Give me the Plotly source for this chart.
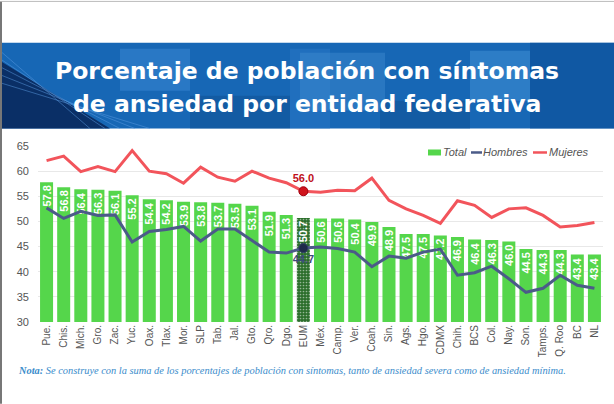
import plotly.graph_objects as go

entidades = ["Pue.", "Chis.", "Mich.", "Gro.", "Zac.", "Yuc.", "Oax.", "Tlax.", "Mor.", "SLP",
             "Tab.", "Jal.", "Gto.", "Qro.", "Dgo.", "EUM", "Méx.", "Camp.", "Ver.", "Coah.",
             "Sin.", "Ags.", "Hgo.", "CDMX", "Chih.", "BCS", "Col.", "Nay.", "Son.", "Tamps.",
             "Q. Roo", "BC", "NL"]
total = [57.8, 56.8, 56.4, 56.3, 56.1, 55.2, 54.4, 54.2, 53.9, 53.8,
         53.7, 53.5, 53.1, 51.9, 51.3, 50.7, 50.6, 50.6, 50.4, 49.9,
         48.9, 47.5, 47.5, 47.2, 46.9, 46.4, 46.3, 46.0, 44.5, 44.3,
         44.3, 43.4, 43.4]
hombres = [52.7, 50.6, 52.0, 51.2, 51.3, 45.9, 48.0, 48.4, 49.0, 46.1,
           48.5, 48.5, 46.2, 43.9, 43.7, 44.7, 44.9, 44.6, 43.9, 41.0,
           43.1, 42.7, 43.9, 44.5, 39.3, 39.8, 41.1, 38.6, 35.9, 36.7,
           39.3, 37.3, 36.7]
mujeres = [62.1, 63.0, 59.9, 60.9, 59.9, 64.1, 60.0, 59.5, 57.6, 60.8,
           58.8, 58.0, 60.0, 58.6, 57.7, 56.0, 55.8, 56.2, 56.1, 58.6,
           54.2, 52.5, 51.2, 49.6, 54.1, 53.2, 50.8, 52.5, 52.7, 51.2,
           48.9, 49.2, 49.8]
nacional = "EUM"
y_ticks = [30, 35, 40, 45, 50, 55, 60, 65]
series_names = ["Total", "Hombres", "Mujeres"]

W, H = 614, 404
L, R, T, B = 38, 603, 145.5, 322


def px(x):
    return (x - L) / (R - L)


def py(y):
    return (B - y) / (B - T)


green = "#55d64b"
dark_green = "#2b6e2b"
c_hombres = "#4b5b88"
c_mujeres = "#f2545b"
bar_colors = [dark_green if e == nacional else green for e in entidades]
patterns = ["." if e == nacional else "" for e in entidades]

fig = go.Figure()
fig.add_trace(go.Bar(
    x=entidades, y=total, name=series_names[0], showlegend=False,
    marker=dict(color=bar_colors, line=dict(width=0),
                pattern=dict(shape=patterns, fgcolor="#347534", size=3, solidity=0.25)),
    text=[f"{v:.1f}" for v in total], textposition="inside", insidetextanchor="end",
    textangle=-90, constraintext="none",
    textfont=dict(family="Liberation Sans, Arial", size=11, color="white", weight="bold"),
    cliponaxis=False,
))
fig.add_trace(go.Scatter(
    x=entidades, y=hombres, name=series_names[1], mode="lines", showlegend=False,
    line=dict(color=c_hombres, width=3),
))
fig.add_trace(go.Scatter(
    x=entidades, y=mujeres, name=series_names[2], mode="lines", showlegend=False,
    line=dict(color=c_mujeres, width=3),
))
i = entidades.index(nacional)
fig.add_trace(go.Scatter(
    x=[nacional], y=[mujeres[i]], mode="markers+text", showlegend=False,
    marker=dict(color="#d0141c", size=9, line=dict(color="#a00010", width=1)),
    text=[f"{mujeres[i]:.1f}"], textposition="top center",
    textfont=dict(family="Liberation Sans, Arial", size=11, color="#c0101a", weight="bold"),
))
fig.add_trace(go.Scatter(
    x=[nacional], y=[hombres[i]], mode="markers+text", showlegend=False,
    marker=dict(color="#1f2a4a", size=9, line=dict(color="#2e3d66", width=1)),
    text=[f"{hombres[i]:.1f}"], textposition="bottom center",
    textfont=dict(family="Liberation Sans, Arial", size=11, color="#3b4a78", weight="bold"),
))

shapes = []
shapes.append(dict(type="rect", xref="paper", yref="paper", x0=px(0), x1=px(W), y0=py(128), y1=py(42),
                   fillcolor="#1767b5", line=dict(width=0), layer="below"))
for (x0, y0, x1, y1, c, o) in [
    (120, 48, 190, 90, "#3b8ad6", 0.5), (290, 48, 330, 128, "#2a78c8", 0.5),
    (300, 52, 385, 110, "#4b95d8", 0.35), (470, 50, 530, 100, "#4a98dc", 0.45),
    (530, 42, 614, 128, "#0c4f98", 0.6), (190, 95, 290, 128, "#0f4f92", 0.5),
    (380, 100, 470, 128, "#0f4f92", 0.5),
]:
    shapes.append(dict(type="rect", xref="paper", yref="paper", x0=px(x0), x1=px(x1), y0=py(y1), y1=py(y0),
                       fillcolor=c, opacity=o, line=dict(width=0), layer="below"))


def path_px(pts):
    return "M " + " L ".join(f"{px(a):.4f},{py(b):.4f}" for a, b in pts) + " Z"


shapes.append(dict(type="path", xref="paper", yref="paper", path=path_px([(0, 128), (0, 60), (110, 128)]),
                   fillcolor="#0a2f66", line=dict(width=0), layer="below"))
for k in range(5):
    shapes.append(dict(type="line", xref="paper", yref="paper",
                       x0=px(0), y0=py(50 + k * 8), x1=px(90 + k * 15), y1=py(128),
                       line=dict(color="#5a9ae0", width=1), opacity=0.5, layer="below"))
shapes.append(dict(type="line", xref="paper", yref="paper", x0=px(1), x1=px(1), y0=py(0), y1=py(404),
                   line=dict(color="#777777", width=2)))
shapes.append(dict(type="line", xref="paper", yref="paper", x0=px(0), x1=px(W), y0=py(0.5), y1=py(0.5),
                   line=dict(color="#bbbbbb", width=1)))

# manual legend
leg_y = 152
shapes.append(dict(type="rect", xref="paper", yref="paper", x0=px(428), x1=px(441),
                   y0=py(leg_y + 3), y1=py(leg_y - 3), fillcolor=green, line=dict(width=0)))
shapes.append(dict(type="line", xref="paper", yref="paper", x0=px(471), x1=px(482),
                   y0=py(leg_y), y1=py(leg_y), line=dict(color=c_hombres, width=2.5)))
shapes.append(dict(type="line", xref="paper", yref="paper", x0=px(533), x1=px(547),
                   y0=py(leg_y), y1=py(leg_y), line=dict(color=c_mujeres, width=2.5)))

leg_font = dict(family="Liberation Sans, Arial", size=11, color="#555555", style="italic")
annotations = [
    dict(text="Porcentaje de población con síntomas",
         xref="paper", yref="paper", x=px(307), y=py(70), xanchor="center", yanchor="middle",
         showarrow=False,
         font=dict(family="DejaVu Sans", size=23.5, color="white", weight="bold")),
    dict(text="de ansiedad por entidad federativa",
         xref="paper", yref="paper", x=px(307), y=py(103), xanchor="center", yanchor="middle",
         showarrow=False,
         font=dict(family="DejaVu Sans", size=23.5, color="white", weight="bold")),
    dict(text="<b>Nota:</b> Se construye con la suma de los porcentajes de población con síntomas, "
              "tanto de ansiedad severa como de ansiedad mínima.",
         xref="paper", yref="paper", x=px(16), y=py(371), xanchor="left", yanchor="middle",
         showarrow=False,
         font=dict(family="Liberation Serif, Times New Roman", size=10.4, color="#3a8ccb", style="italic")),
]
for name, xx in zip(series_names, [441, 481, 547]):
    annotations.append(dict(text=name, xref="paper", yref="paper", x=px(xx), y=py(leg_y),
                            xanchor="left", yanchor="middle", showarrow=False, font=leg_font))

fig.update_layout(
    width=W, height=H,
    margin=dict(l=L, r=W - R, t=T, b=H - B, pad=0, autoexpand=False),
    paper_bgcolor="white", plot_bgcolor="white",
    bargap=0.24,
    showlegend=False,
    shapes=shapes,
    annotations=annotations,
    xaxis=dict(type="category", tickangle=-90, showgrid=False, showline=False,
               ticks="", tickfont=dict(family="Liberation Sans, Arial", size=10, color="#555555")),
    yaxis=dict(range=[30, 65], tickvals=y_ticks, showgrid=True, gridcolor="#e8e8e8", gridwidth=1,
               zeroline=False, showline=False, ticklabelstandoff=8,
               tickfont=dict(family="Liberation Sans, Arial", size=11, color="#555555")),
)

fig.write_html("out.html", config={"displayModeBar": False},
               post_script="document.body.style.margin='0';document.body.style.overflow='hidden';")
